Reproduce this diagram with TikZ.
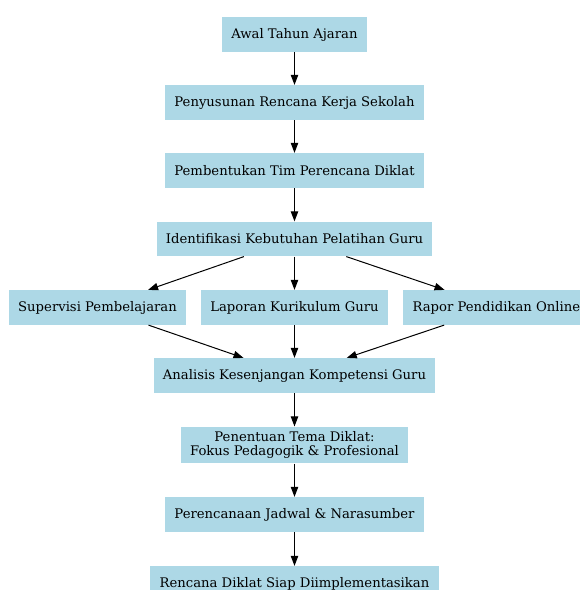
\documentclass[tikz,border=0pt]{standalone}
\usepackage{fontspec}
\setmainfont{DejaVu Serif}
\usetikzlibrary{arrows.meta}
\definecolor{birumuda}{HTML}{ADD8E6}

\begin{document}
\begin{tikzpicture}[x=0.75pt,y=-0.75pt,
  kotak/.style={fill=birumuda,minimum height=26pt,inner xsep=7pt,
    align=center,font=\fontsize{9.9}{11}\selectfont},
  panah/.style={line width=0.75pt,-{Triangle[length=7.5pt,width=5.5pt]}}]
  \useasboundingbox (0,0) rectangle (580,590);
  \clip (0,0) rectangle (580,590);
  \node[kotak] (awal) at (294.5,34.5) {Awal Tahun Ajaran};
  \node[kotak] (rks) at (294.5,102.5) {Penyusunan Rencana Kerja Sekolah};
  \node[kotak] (tim) at (294.5,170.5) {Pembentukan Tim Perencana Diklat};
  \node[kotak] (idn) at (294.5,239) {Identifikasi Kebutuhan Pelatihan Guru};
  \node[kotak] (sup) at (97.5,307.5) {Supervisi Pembelajaran};
  \node[kotak] (lap) at (294.5,307.5) {Laporan Kurikulum Guru};
  \node[kotak,anchor=west] (rap) at (403,307.5) {Rapor Pendidikan Online};
  \node[kotak] (ana) at (294.5,375.5) {Analisis Kesenjangan Kompetensi Guru};
  \node[kotak] (tema) at (294.5,445) {Penentuan Tema Diklat:\\Fokus Pedagogik \& Profesional};
  \node[kotak] (jad) at (294.5,514.5) {Perencanaan Jadwal \& Narasumber};
  \node[kotak] (siap) at (294.5,583.5) {Rencana Diklat Siap Diimplementasikan};
  \foreach \a/\b in {awal/rks,rks/tim,tim/idn,idn/sup,idn/lap,idn/rap,
    sup/ana,lap/ana,rap/ana,ana/tema,tema/jad,jad/siap}{
    \draw[panah] (\a) -- (\b);
  }
\end{tikzpicture}
\end{document}
